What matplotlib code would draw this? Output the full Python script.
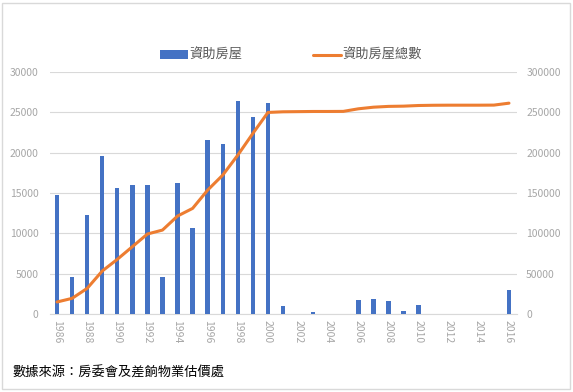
import matplotlib.pyplot as plt
from matplotlib.patches import Rectangle
import numpy as np

plt.rcParams['font.family'] = ['Noto Sans CJK TC', 'DejaVu Sans']

# yearly subsidised housing completions and cumulative total
years = list(range(1986, 2017))
units = [14750, 4590, 12270, 19590, 15620, 15990, 15990, 4590, 16240, 10700,
         21570, 21120, 26400, 24460, 26160, 990, 0, 290, 0, 0,
         1740, 1860, 1610, 370, 1120, 0, 0, 0, 0, 0, 2980]
total = [14900, 19400, 31800, 53300, 67800, 83500, 99200, 104100, 121500, 131000,
         153700, 172300, 197100, 224000, 250000, 250800, 251000, 251200, 251200, 251300,
         254500, 256500, 257500, 257800, 258600, 258900, 259000, 259000, 259000, 259100, 261500]
bar_label = "資助房屋"
line_label = "資助房屋總數"
source = "數據來源：房委會及差餉物業估價處"

grey = "#a6a6a6"
blue = "#4472C4"
orange = "#ED7D31"

fig = plt.figure(figsize=(5.73, 3.92), dpi=100)
ax = fig.add_axes([0.0864, 0.199, 0.815, 0.617])
ax2 = ax.twinx()

x = np.arange(len(years))
b = ax.bar(x, units, width=0.29, color=blue, zorder=3)
ln, = ax2.plot(x, total, color=orange, linewidth=2.2, solid_capstyle='round', zorder=4)

ax.set_xlim(-0.5, len(years) - 0.5)
ax.set_ylim(0, 30000)
ax2.set_ylim(0, 300000)
ax.set_yticks(np.arange(0, 30001, 5000))
ax2.set_yticks(np.arange(0, 300001, 50000))
ax.yaxis.grid(True, color="#d9d9d9", linewidth=0.8, zorder=0)
ax.set_axisbelow(True)

ax.set_xticks(x[::2])
ax.set_xticklabels([str(y) for y in years[::2]], rotation=-90)

for a in (ax, ax2):
    for s in a.spines.values():
        s.set_visible(False)
    a.tick_params(length=0, colors=grey, labelsize=7.5)
ax.spines['bottom'].set_visible(True)
ax.spines['bottom'].set_color("#d9d9d9")
ax.tick_params(axis='y', pad=8)
ax2.tick_params(axis='y', pad=7)
ax.tick_params(axis='x', pad=4)

leg = fig.legend([b, ln], [bar_label, line_label], loc='center', ncol=2,
                 bbox_to_anchor=(0.508, 0.858), frameon=False, fontsize=9.5,
                 columnspacing=5.3, handletextpad=0.15, handlelength=2.1,
                 labelcolor="#595959")

fig.text(0.021, 0.038, source, fontsize=9.5, color="black")

fig.patches.append(Rectangle((0.004, 0.008), 0.991, 0.985, transform=fig.transFigure,
                             fill=False, edgecolor="#d9d9d9", linewidth=1))

fig.savefig("out.png", dpi=100)
